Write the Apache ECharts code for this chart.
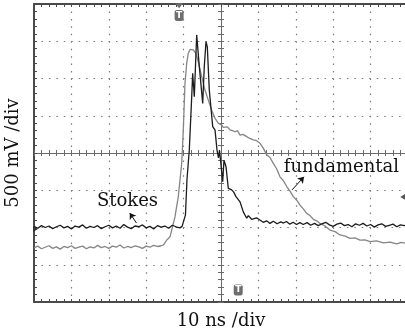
<!DOCTYPE html>
<html>
<head>
<meta charset="utf-8">
<script src="https://cdn.jsdelivr.net/npm/echarts@6/dist/echarts.min.js"></script>
<style>
  html, body { margin: 0; padding: 0; background: #fff; }
  #scope { width: 405px; height: 334px; }
</style>
</head>
<body>
<div id="scope"></div>
<script>
// time in ns relative to screen centre, amplitude in divisions (500 mV/div)
var stokes = [
  [-50, -1.97], [-49, -2.02], [-48, -1.95], [-47, -2.00], [-46, -1.96], [-45, -2.03],
  [-44, -1.98], [-43, -1.94], [-42, -2.01], [-41, -1.97], [-40, -2.04], [-39, -1.96],
  [-38, -1.99], [-37, -1.93], [-36, -2.02], [-35, -1.97], [-34, -2.00], [-33, -1.95],
  [-32, -2.03], [-31, -1.98], [-30, -1.94], [-29, -2.01], [-28, -1.96], [-27, -2.02],
  [-26, -1.92], [-25, -1.99], [-24, -2.03], [-23, -1.96], [-22, -1.98], [-21, -1.93],
  [-20, -2.01], [-19, -1.97], [-18, -2.04], [-17, -1.95], [-16, -1.99], [-15, -1.96],
  [-14, -2.02], [-13, -1.94], [-12, -1.98], [-11, -2.01], [-10.4, -1.97], [-9.9, -1.99],
  [-9.5, -1.66], [-9.1, -0.72], [-8.48, 0.08], [-7.83, 1.51], [-7.57, 2.14], [-7.14, 1.51],
  [-6.5, 3.17], [-6.23, 3.21], [-5.8, 2.32], [-4.89, 1.33], [-4.47, 2.32], [-4.01, 2.99],
  [-3.66, 2.85], [-3.13, 1.69], [-2.22, 0.71], [-1.6, 0.62], [-1.07, 0.08], [-0.67, -0.13],
  [-0.4, 0.08], [0, -0.32], [0.45, -0.77], [0.8, -0.19], [1.34, -0.37], [1.95, -0.95],
  [2.4, -0.9], [2.86, -0.99], [3.4, -1.05], [4.01, -1.17], [4.5, -1.12], [5.08, -1.31],
  [5.5, -1.36], [5.96, -1.58], [6.4, -1.62], [6.87, -1.75], [7.3, -1.68], [7.75, -1.71],
  [8.2, -1.78], [8.64, -1.8], [9.5, -1.74], [10.4, -1.8], [11.3, -1.86], [12.2, -1.82],
  [13.1, -1.89], [14, -1.83], [15, -1.9], [16, -1.85], [16.7, -1.88], [17.5, -1.84],
  [18.4, -1.91], [19.3, -1.86], [20.2, -1.92], [21.1, -1.87], [22, -1.92], [23, -1.87],
  [24, -1.94], [25, -1.89], [26, -1.95], [27, -1.9], [28, -1.86], [29, -1.93],
  [30, -1.97], [31, -1.91], [32, -1.88], [33, -1.95], [34, -1.92], [35, -1.98],
  [36, -1.9], [37, -1.94], [38, -1.89], [39, -1.96], [40, -1.92], [41, -1.99],
  [42, -1.93], [43, -1.9], [44, -1.97], [45, -1.94], [46, -1.91], [47, -1.98],
  [48, -1.93], [49, -1.95], [50, -1.92]
];

var fundamental = [
  [-50, -2.55], [-49, -2.5], [-48, -2.57], [-47, -2.53], [-46, -2.49], [-45, -2.56],
  [-44, -2.52], [-43, -2.58], [-42, -2.51], [-41, -2.54], [-40, -2.49], [-39, -2.56],
  [-38, -2.53], [-37, -2.5], [-36, -2.57], [-35, -2.52], [-34, -2.55], [-33, -2.48],
  [-32, -2.54], [-31, -2.51], [-30, -2.56], [-29, -2.5], [-28, -2.53], [-27, -2.47],
  [-26, -2.55], [-25, -2.51], [-24, -2.54], [-23, -2.49], [-22, -2.52], [-21, -2.56],
  [-20, -2.5], [-19, -2.53], [-18, -2.48], [-17, -2.51], [-16, -2.49], [-15.43, -2.47],
  [-14.52, -2.34], [-13.64, -2.25], [-13.18, -2.07], [-12.3, -1.71], [-11.42, -1.17],
  [-10.51, -0.28], [-10.08, 0.62], [-9.63, 1.87], [-9.17, 2.41], [-8.74, 2.68],
  [-8.29, 2.78], [-7.83, 2.81], [-7.41, 2.77], [-6.76, 2.68], [-6.07, 2.45],
  [-5.16, 2.05], [-4.28, 1.69], [-3.4, 1.42], [-2.49, 1.15], [-1.6, 0.93],
  [-0.72, 0.8], [0.19, 0.75], [0.6, 0.69], [1.07, 0.66], [1.7, 0.7], [2.41, 0.62],
  [3.1, 0.6], [3.74, 0.57], [4.4, 0.6], [5.08, 0.48], [5.9, 0.5], [6.87, 0.44],
  [7.7, 0.39], [8.64, 0.35], [9.5, 0.33], [10.43, 0.26], [11.31, 0.13], [12.22, -0.05],
  [13.1, -0.12], [13.98, -0.28], [14.9, -0.43], [15.78, -0.64], [16.7, -0.75],
  [17.57, -0.9], [18.5, -1.03], [19.33, -1.17], [20.2, -1.26], [21.12, -1.4],
  [22, -1.5], [22.91, -1.62], [23.8, -1.68], [24.68, -1.78], [25.6, -1.82],
  [26.47, -1.89], [27.8, -1.96], [29.14, -2.07], [30.5, -2.11], [31.82, -2.2],
  [33.2, -2.23], [34.49, -2.29], [35.8, -2.28], [37.17, -2.34], [38.5, -2.33],
  [39.84, -2.38], [41.6, -2.36], [43.4, -2.41], [45.2, -2.39], [46.98, -2.44],
  [48.2, -2.4], [49.2, -2.42], [50, -2.44]
];

var timeRange = [-50, 50];   // 10 div x 10 ns
var voltRange = [-4, 4];     // 8 div x 500 mV

var serif = 'DejaVu Serif';
var frameColor = '#4a4a4a';
var dotStyle = { color: '#7a7a7a', width: 1.2, type: [1.5, 5.95] };

function frameAxis(pos) {
  return {
    type: 'value', position: pos,
    axisLine: { show: true, onZero: false, lineStyle: { color: frameColor, width: 2 } },
    axisTick: { show: true, inside: true, length: 3, lineStyle: { color: frameColor } },
    minorTick: { show: true, splitNumber: 5, length: 3, lineStyle: { color: frameColor } },
    axisLabel: { show: false },
    splitLine: { show: false }
  };
}

function centreAxis(pos) {
  return {
    type: 'value', position: pos,
    axisLine: { show: true, onZero: true, onZeroAxisIndex: 0, lineStyle: { color: '#6a6a6a', width: 1 } },
    axisTick: { show: true, inside: true, length: 3, lineStyle: { color: '#6a6a6a' } },
    minorTick: { show: true, splitNumber: 5, length: 3, lineStyle: { color: '#6a6a6a' } },
    axisLabel: { show: false },
    splitLine: { show: false }
  };
}

var xAxes = ['bottom', 'top'].map(frameAxis).concat(['bottom', 'top'].map(centreAxis));
var yAxes = [frameAxis('left')].concat(['left', 'right'].map(centreAxis));

xAxes.forEach(function (a) { a.min = timeRange[0]; a.max = timeRange[1]; a.interval = 10; });
yAxes.forEach(function (a) { a.min = voltRange[0]; a.max = voltRange[1]; a.interval = 1; });

xAxes[0].splitLine = { show: true, lineStyle: dotStyle };
xAxes[0].name = '10 ns /div';
xAxes[0].nameLocation = 'middle';
xAxes[0].nameGap = 10;
xAxes[0].nameTextStyle = { fontFamily: serif, fontSize: 18, color: '#111' };

yAxes[0].splitLine = { show: true, lineStyle: dotStyle };
yAxes[0].name = '500 mV /div';
yAxes[0].nameLocation = 'middle';
yAxes[0].nameRotate = 90;
yAxes[0].nameGap = 12;
yAxes[0].nameTextStyle = { fontFamily: serif, fontSize: 18, color: '#111' };

var chart = echarts.init(document.getElementById('scope'));

var textLabel = function (name, coord) {
  return {
    name: name, coord: coord, symbol: 'rect', symbolSize: 1,
    itemStyle: { color: 'transparent' },
    label: { show: true, position: 'inside', formatter: name, fontFamily: serif, fontSize: 18, color: '#111' }
  };
};

var option = {
  animation: false,
  backgroundColor: '#fff',
  grid: { left: 34, right: -3, top: 4, bottom: 32, outerBoundsMode: 'none', containLabel: false },
  xAxis: xAxes,
  yAxis: yAxes,
  series: [
    {
      name: 'fundamental', type: 'line', data: fundamental,
      showSymbol: false, symbol: 'none',
      lineStyle: { color: '#858585', width: 1.3 },
      z: 3,
      markPoint: {
        silent: true,
        data: [
          {
            coord: [-11.2, 3.69], symbol: 'roundRect', symbolSize: [9, 11],
            itemStyle: { color: '#6e6e6e' },
            label: { show: true, position: 'inside', formatter: 'T', color: '#fff', fontSize: 9, fontWeight: 'bold', fontFamily: 'DejaVu Sans' }
          },
          {
            coord: [-11.2, 3.95], symbol: 'triangle', symbolSize: [8, 5], symbolRotate: 180,
            itemStyle: { color: '#6e6e6e' }, label: { show: false }
          },
          {
            coord: [4.6, -3.68], symbol: 'roundRect', symbolSize: [9, 11],
            itemStyle: { color: '#6e6e6e' },
            label: { show: true, position: 'inside', formatter: 'T', color: '#fff', fontSize: 9, fontWeight: 'bold', fontFamily: 'DejaVu Sans' }
          },
          {
            coord: [-49.6, -2.04], symbol: 'triangle', symbolSize: [6, 5], symbolRotate: -90,
            itemStyle: { color: '#333' }, label: { show: false }
          },
          {
            coord: [48.6, -1.18], symbol: 'triangle', symbolSize: [6, 5], symbolRotate: 90,
            itemStyle: { color: '#555' }, label: { show: false }
          },
          textLabel('fundamental', [32.2, -0.38])
        ]
      },
      markLine: {
        silent: true, symbol: ['none', 'arrow'], symbolSize: 6,
        lineStyle: { color: '#111', width: 1, type: 'solid' },
        label: { show: false },
        data: [[{ coord: [19.0, -0.99] }, { coord: [22.2, -0.64] }]]
      }
    },
    {
      name: 'Stokes', type: 'line', data: stokes,
      showSymbol: false, symbol: 'none',
      lineStyle: { color: '#1c1c1c', width: 1.3 },
      z: 4,
      markPoint: {
        silent: true,
        data: [textLabel('Stokes', [-25.0, -1.29])]
      },
      markLine: {
        silent: true, symbol: ['none', 'arrow'], symbolSize: 6,
        lineStyle: { color: '#111', width: 1, type: 'solid' },
        label: { show: false },
        data: [[{ coord: [-22.6, -1.88] }, { coord: [-24.4, -1.61] }]]
      }
    }
  ]
};

chart.setOption(option);
window.onresize = chart.resize;
</script>
</body>
</html>
